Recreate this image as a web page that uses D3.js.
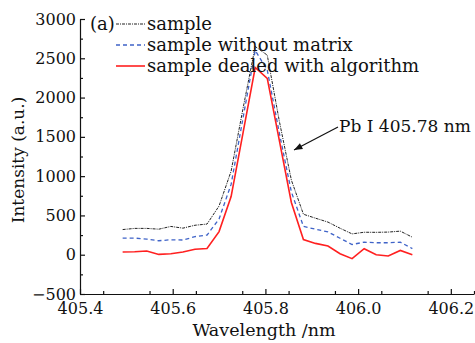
<!DOCTYPE html>
<html>
<head>
<meta charset="utf-8">
<script src="https://cdn.jsdelivr.net/npm/d3@7"></script>
<style>
  body { margin: 0; background: #fff; }
  text { font-family: "DejaVu Serif", serif; fill: #111; }
</style>
</head>
<body>
<div id="plot"></div>
<script>
// data
var wavelength = [405.492, 405.518, 405.544, 405.570, 405.596, 405.622, 405.648, 405.674,
    405.700, 405.726, 405.752, 405.778, 405.804, 405.830, 405.856, 405.882, 405.908,
    405.935, 405.961, 405.987, 406.013, 406.039, 406.065, 406.091, 406.117];
var sample = [320, 335, 335, 325, 360, 338, 375, 390, 620, 1063, 1870, 2650, 2540,
    1700, 950, 515, 465, 415, 337, 265, 286, 285, 288, 300, 223];
var sampleNoMatrix = [210, 212, 198, 178, 190, 187, 230, 250, 455, 895, 1750, 2600, 2350,
    1550, 800, 360, 325, 290, 210, 130, 160, 152, 152, 160, 78];
var sampleAlgorithm = [34, 38, 47, 4, 13, 34, 70, 80, 294, 740, 1560, 2383, 2245,
    1455, 665, 193, 144, 110, 13, -50, 76, 0, -16, 54, 0];
var seriesNames = ["sample", "sample without matrix", "sample dealed with algorithm"];
var xTicks = [405.4, 405.6, 405.8, 406.0, 406.2];
var yTicks = [-500, 0, 500, 1000, 1500, 2000, 2500, 3000];

var svgWidth = 475, svgHeight = 343;
var margin = { top: 19, right: 1, bottom: 49, left: 80 };
var width = svgWidth - margin.left - margin.right;
var height = svgHeight - margin.top - margin.bottom;

var svg = d3.select("#plot").append("svg")
    .attr("width", svgWidth)
    .attr("height", svgHeight);

var g = svg.append("g")
    .attr("transform", `translate(${margin.left}, ${margin.top})`);

var xScale = d3.scaleLinear().domain([405.4, 406.25]).range([0, width]);
var yScale = d3.scaleLinear().domain([-500, 3000]).range([height, 0]);

// minor ticks
g.append("g")
    .attr("transform", `translate(0, ${height})`)
    .call(d3.axisBottom(xScale).tickValues(d3.range(405.45, 406.26, 0.1)).tickSize(-3).tickFormat(""))
    .call(a => a.select(".domain").remove());
g.append("g")
    .call(d3.axisLeft(yScale).tickValues(d3.range(-250, 3000, 500)).tickSize(-3).tickFormat(""))
    .call(a => a.select(".domain").remove());

// major axes
var xAxis = g.append("g")
    .attr("transform", `translate(0, ${height})`)
    .call(d3.axisBottom(xScale).tickValues(xTicks).tickSize(-5).tickPadding(9)
        .tickFormat(d3.format(".1f")).tickSizeOuter(0));
var yAxis = g.append("g")
    .call(d3.axisLeft(yScale).tickValues(yTicks).tickSize(-5).tickPadding(4)
        .tickFormat(d3.format("d")).tickSizeOuter(0));

svg.selectAll(".tick text").attr("font-size", 16).attr("font-family", "DejaVu Serif").attr("fill", "#111");
svg.selectAll(".domain, .tick line").attr("stroke", "#111").attr("stroke-width", 1.2);

// lines
var line = d3.line()
    .x((d, i) => xScale(wavelength[i]))
    .y(d => yScale(d));

var styles = [
    { data: sample, color: "#222", dash: "3,1,1,1", w: 1 },
    { data: sampleNoMatrix, color: "#3f63c8", dash: "4,3", w: 1.3 },
    { data: sampleAlgorithm, color: "#ff2020", dash: null, w: 1.6 }
];

styles.forEach(s => {
    g.append("path")
        .datum(s.data)
        .attr("fill", "none")
        .attr("stroke", s.color)
        .attr("stroke-width", s.w)
        .attr("stroke-dasharray", s.dash)
        .attr("d", line);
});

// legend
svg.append("text")
    .attr("x", 90).attr("y", 30)
    .attr("font-size", 18)
    .text("(a)");

styles.forEach((s, i) => {
    var y = 24 + i * 21;
    svg.append("line")
        .attr("x1", 116).attr("x2", 145)
        .attr("y1", y).attr("y2", y)
        .attr("stroke", s.color)
        .attr("stroke-width", s.w)
        .attr("stroke-dasharray", s.dash);
    svg.append("text")
        .attr("x", 147).attr("y", y + 6)
        .attr("font-size", 18)
        .text(seriesNames[i]);
});

// annotation
svg.append("defs").append("marker")
    .attr("id", "arrow")
    .attr("viewBox", "0 0 10 10")
    .attr("refX", 10).attr("refY", 5)
    .attr("markerWidth", 9).attr("markerHeight", 7)
    .attr("orient", "auto")
    .append("path")
    .attr("d", "M0,1 L10,5 L0,9 Z")
    .attr("fill", "#111");

svg.append("line")
    .attr("x1", 338).attr("y1", 127)
    .attr("x2", 294).attr("y2", 150)
    .attr("stroke", "#111").attr("stroke-width", 1.2)
    .attr("marker-end", "url(#arrow)");

svg.append("text")
    .attr("x", 339).attr("y", 132)
    .attr("font-size", 17)
    .text("Pb I 405.78 nm");

// axis titles
svg.append("text")
    .attr("x", 264)
    .attr("y", 336)
    .attr("text-anchor", "middle")
    .attr("font-size", 17.5)
    .text("Wavelength /nm");

svg.append("text")
    .attr("transform", "rotate(-90)")
    .attr("x", -160)
    .attr("y", 24)
    .attr("text-anchor", "middle")
    .attr("font-size", 17)
    .text("Intensity (a.u.)");
</script>
</body>
</html>
